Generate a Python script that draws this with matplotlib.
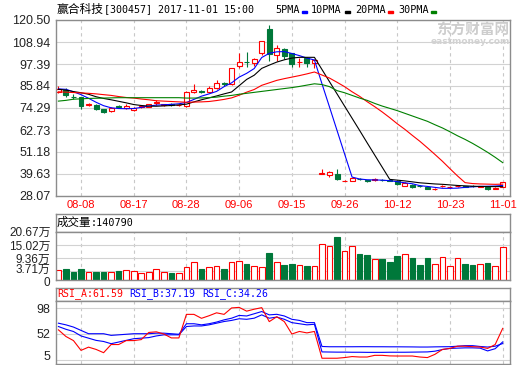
import matplotlib
matplotlib.use("Agg")
import matplotlib.pyplot as plt
from matplotlib.patches import Rectangle
from matplotlib.transforms import ScaledTranslation

plt.rcParams['font.family'] = ['Liberation Sans', 'Noto Sans CJK SC']

# x labels
dates = ['08-08', '08-17', '08-28', '09-06', '09-15', '09-26', '10-12', '10-23', '11-01']
date_idx = [3, 10, 17, 24, 31, 38, 45, 52, 59]

# daily candles (60 trading days)
opens = [82.7, 84.0, 80.3, 80.0, 75.9, 75.8, 73.7, 72.9, 75.2, 74.3,
         73.3, 74.8, 75.0, 76.8, 75.8, 76.4, 75.9, 75.2, 82.6, 83.2,
         82.9, 84.7, 87.4, 86.8, 96.3, 98.6, 97.7, 103.0, 115.6, 102.1,
         105.1, 103.0, 98.4, 100.7, 98.1, 39.6, 39.0, 39.6, 36.0, 36.2,
         37.0, 36.3, 36.6, 36.6, 36.3, 35.9, 33.5, 34.0, 33.5, 32.9,
         31.7, 33.1, 32.8, 33.3, 33.2, 33.5, 33.0, 32.9, 31.7, 32.9]
highs = [85.8, 85.0, 81.5, 80.3, 77.0, 76.5, 74.0, 74.6, 75.8, 76.5,
         75.0, 75.6, 76.5, 78.3, 76.6, 76.8, 76.5, 83.0, 86.9, 84.0,
         86.0, 89.0, 88.0, 95.5, 103.0, 103.5, 100.5, 109.6, 118.0, 107.3,
         105.6, 103.2, 100.4, 101.2, 100.0, 42.0, 41.3, 42.1, 36.5, 37.6,
         37.4, 36.6, 37.4, 37.0, 36.8, 36.3, 35.2, 34.5, 34.0, 33.2,
         32.4, 33.8, 33.4, 34.0, 33.5, 33.8, 33.4, 33.1, 32.9, 35.5]
lows = [82.0, 80.0, 79.0, 74.0, 75.5, 73.2, 71.7, 72.3, 74.3, 74.0,
        72.8, 74.2, 74.6, 76.0, 75.3, 75.5, 75.2, 74.8, 82.3, 82.0,
        82.5, 84.3, 86.0, 86.3, 95.1, 96.0, 96.5, 102.0, 99.0, 99.2,
        99.8, 96.0, 96.0, 96.0, 95.1, 39.5, 38.0, 36.7, 35.8, 36.0,
        36.3, 35.2, 36.2, 36.0, 35.8, 34.0, 33.2, 32.3, 33.0, 31.5,
        31.2, 32.8, 32.5, 33.0, 32.6, 32.8, 32.7, 31.3, 31.5, 32.7]
closes = [84.1, 81.0, 79.8, 75.2, 76.2, 73.9, 72.4, 74.4, 74.9, 75.3,
          74.5, 75.1, 76.2, 77.2, 76.3, 75.9, 76.1, 82.5, 83.7, 82.9,
          84.6, 87.2, 86.9, 95.1, 98.6, 98.2, 99.8, 109.5, 102.6, 105.6,
          101.6, 97.3, 98.7, 97.8, 99.3, 40.3, 40.5, 36.8, 36.2, 37.4,
          36.8, 36.1, 36.8, 36.4, 36.0, 34.4, 34.7, 32.6, 33.3, 31.6,
          31.9, 33.3, 33.0, 33.5, 32.9, 33.3, 33.2, 31.6, 32.4, 35.3]

ma5 = [84.3, 84.1, 82.8, 81.3, 79.4, 77.3, 75.5, 74.4, 74.0, 73.9,
       74.0, 74.6, 75.3, 75.8, 76.0, 76.2, 76.5, 77.2, 78.8, 80.5,
       81.7, 83.0, 85.5, 87.5, 90.5, 92.5, 95.0, 100.8, 103.0, 103.8,
       103.9, 102.9, 101.8, 100.5, 99.5, 87.0, 74.8, 62.5, 50.2, 38.0,
       37.0, 36.6, 36.5, 36.4, 36.1, 35.6, 35.0, 34.5, 33.5, 33.1,
       32.6, 32.1, 32.1, 32.2, 32.6, 32.9, 33.1, 33.2, 33.3, 33.6]
ma10 = [84.1, 83.7, 82.9, 82.3, 81.5, 80.2, 79.3, 78.6, 77.8, 77.0,
        76.1, 75.6, 75.3, 75.2, 75.4, 75.6, 75.9, 76.3, 77.5, 78.6,
        79.6, 80.6, 81.7, 82.7, 86.0, 89.3, 91.5, 95.1, 96.8, 98.4,
        99.6, 100.5, 100.9, 100.9, 100.9, 94.5, 88.1, 81.7, 75.3, 68.9,
        62.5, 56.0, 49.6, 43.2, 36.8, 36.4, 36.0, 35.5, 35.0, 34.7,
        34.4, 34.2, 33.9, 33.6, 33.4, 33.2, 33.1, 33.0, 33.0, 33.0]
ma20 = [82.8, 82.6, 82.4, 82.2, 82.0, 81.7, 81.3, 80.9, 80.3, 79.8,
        79.5, 79.0, 78.6, 78.1, 77.9, 77.7, 77.5, 77.3, 77.4, 77.5,
        77.7, 78.2, 78.8, 79.6, 81.0, 82.6, 84.0, 86.2, 87.5, 88.8,
        89.7, 90.5, 91.3, 92.2, 93.2, 91.6, 90.0, 87.8, 85.5, 82.8,
        80.4, 77.6, 75.0, 72.2, 69.2, 66.0, 63.1, 59.9, 56.8, 53.4,
        49.9, 46.3, 42.4, 38.6, 35.1, 34.6, 34.4, 34.3, 34.2, 34.3]
ma30 = [77.9, 78.3, 78.9, 79.1, 79.3, 79.4, 79.5, 79.6, 79.7, 79.7,
        79.7, 79.7, 79.7, 79.7, 79.7, 79.7, 79.7, 79.5, 79.5, 79.6,
        79.7, 80.0, 80.5, 80.9, 81.5, 82.0, 82.5, 83.0, 83.5, 84.0,
        84.5, 85.0, 85.6, 86.3, 87.0, 86.6, 85.5, 83.4, 82.3, 80.9,
        79.5, 78.3, 76.7, 75.3, 74.1, 72.9, 71.5, 70.1, 68.7, 67.3,
        65.5, 63.8, 61.8, 59.7, 57.8, 55.7, 53.4, 51.0, 48.4, 45.6]

# volume in 万 shares
volume = [4.3, 4.7, 3.6, 4.7, 3.3, 3.3, 3.3, 3.3, 3.9, 4.1,
          3.9, 2.9, 3.3, 4.6, 3.3, 2.9, 2.9, 5.7, 7.6, 4.7,
          5.7, 6.1, 4.7, 7.6, 8.3, 7.1, 6.1, 5.4, 11.6, 7.6,
          6.4, 6.7, 6.3, 5.9, 5.9, 15.3, 14.8, 18.4, 12.3, 14.8,
          11.1, 10.7, 9.0, 9.0, 7.7, 10.3, 11.0, 9.5, 6.4, 9.5,
          7.1, 10.1, 5.9, 9.3, 6.8, 6.4, 6.7, 7.3, 5.9, 14.08]

rsi_a = [59, 47, 39.6, 22, 27.8, 23.7, 17.8, 32.5, 32.5, 39.6,
         39.6, 41.4, 54.3, 55.4, 51.5, 44.4, 44.4, 86.9, 86.9, 79.8,
         84.4, 89.7, 86.9, 98.5, 99.5, 92.7, 96.2, 99.0, 73.8, 82.6,
         73.8, 51.5, 56.1, 53.5, 56.1, 7.8, 7.8, 7.8, 9.0, 10.8,
         10.0, 10.0, 13.0, 13.0, 12.0, 11.8, 11.8, 11.8, 10.0, 9.0,
         14.8, 23.7, 25.5, 29.5, 29.5, 28.6, 28.0, 25.5, 32.5, 61.59]
rsi_b = [65, 60, 56, 48, 44, 40, 38, 34, 37, 40,
         43, 44, 45, 48, 50, 50, 50, 65, 66, 66,
         68, 71, 74, 76, 79, 78, 80, 86, 80, 82,
         78, 72, 70, 68, 69, 19.2, 19.0, 18.8, 18.8, 18.6,
         18.6, 18.4, 18.4, 18.4, 18.6, 18.6, 18.6, 18.8, 19.0, 19.2,
         20.5, 23.5, 25.5, 26.0, 26.5, 26.5, 26.0, 21.0, 25.0, 37.19]
rsi_c = [71, 68, 64, 58, 52, 52, 52, 49, 50, 51,
         52, 52, 52, 53, 53, 52, 51, 70, 70, 68,
         70, 73, 77, 80, 85, 84, 88, 92, 86, 87,
         84, 78, 76, 72, 72, 29.0, 28.5, 28.5, 28.5, 28.5,
         28.6, 28.6, 28.5, 28.5, 28.4, 28.4, 28.3, 28.2, 28.0, 28.0,
         28.3, 28.5, 28.6, 29.5, 30.5, 30.5, 29.0, 28.0, 29.5, 34.26]

price_ticks = [28.07, 39.63, 51.18, 62.73, 74.29, 85.84, 97.39, 108.94, 120.50]
vol_ticks = [0, 3.71, 9.36, 15.02, 20.67]
vol_labels = ['0', '3.71万', '9.36万', '15.02万', '20.67万']
rsi_ticks = [5, 52, 98]

RED = '#ff0000'
GREEN = '#00783a'
FRAME = '#8c8c8c'
GRID = '#d2d2d2'
W, H = 520, 365

fig = plt.figure(figsize=(W / 100, H / 100), dpi=100)


def box(x0, y0, x1, y1):
    # pixel box, y measured from the top
    return [x0 / W, 1 - y1 / H, (x1 - x0) / W, (y1 - y0) / H]


def nudge(label, dy_px):
    label.set_transform(label.get_transform() +
                        ScaledTranslation(0, dy_px / 100, fig.dpi_scale_trans))


ax = fig.add_axes(box(56, 20, 510, 196))
vh = fig.add_axes(box(56, 214, 510, 232))
av = fig.add_axes(box(56, 232, 510, 280))
rh = fig.add_axes(box(56, 288, 510, 301))
ar = fig.add_axes(box(56, 301, 510, 364))

xs = list(range(len(closes)))
up = [c >= o for o, c in zip(opens, closes)]
cols = [RED if u else GREEN for u in up]

for a in (ax, vh, av, rh, ar):
    for s in a.spines.values():
        s.set_color(FRAME)
        s.set_linewidth(1)
    a.set_xlim(-0.32, 59.97)

for a in (vh, rh):
    a.set_xticks([])
    a.set_yticks([])

for a in (ax, av, ar):
    a.set_xticks(date_idx)
    a.grid(axis='x', color='#c8c8c8', linestyle=(0, (3, 3)), linewidth=0.8)
    a.grid(axis='y', color=GRID, linestyle='-', linewidth=0.8)
    a.set_axisbelow(True)
    a.tick_params(length=0, labelsize=9, colors='#222222', pad=4)

# candles
ax.vlines(xs, lows, highs, colors=cols, linewidth=0.8, zorder=2)
bw = 0.66
for i in xs:
    lo = min(opens[i], closes[i])
    h = max(abs(closes[i] - opens[i]), 0.12)
    face = 'white' if up[i] else GREEN
    ax.add_patch(Rectangle((i - bw / 2, lo), bw, h, facecolor=face,
                           edgecolor=cols[i], linewidth=0.8, zorder=2.5))

ax.plot(xs, ma5, color='#0000ff', linewidth=0.8, zorder=3)
ax.plot(xs, ma10, color='#000000', linewidth=0.8, zorder=3)
ax.plot(xs, ma20, color='#ff0000', linewidth=0.8, zorder=3)
ax.plot(xs, ma30, color='#008000', linewidth=0.8, zorder=3)

ax.set_ylim(28.07, 120.50)
ax.set_yticks(price_ticks)
ax.set_yticklabels(['%.2f' % v for v in price_ticks])
ax.set_xticklabels(dates, color=RED, fontsize=8)
ax.tick_params(axis='x', colors=RED, pad=3)

# volume
av.bar(xs, volume, width=0.75, color=['white' if u else GREEN for u in up],
       edgecolor=cols, linewidth=0.8, zorder=2)
av.set_ylim(0, 20.67)
av.set_yticks(vol_ticks)
av.set_yticklabels(vol_labels, fontsize=8.5)
av.set_xticklabels([])
vlabs = av.get_yticklabels()
nudge(vlabs[0], -2)
nudge(vlabs[1], 2.5)
nudge(vlabs[4], 1)

# rsi
ar.plot(xs, rsi_c, color='#0000ff', linewidth=0.8)
ar.plot(xs, rsi_b, color='#0000ff', linewidth=0.8)
ar.plot(xs, rsi_a, color='#ff0000', linewidth=0.8)
ar.set_ylim(-2.6, 111)
ar.set_yticks(rsi_ticks)
ar.set_yticklabels([str(v) for v in rsi_ticks])
ar.set_xticklabels([])
nudge(ar.get_yticklabels()[0], 4.5)

# header texts
mono = 'DejaVu Sans Mono'
fig.text(57 / W, 1 - 9 / H, '赢合科技', family='Noto Sans CJK SC', fontsize=8.5, va='center')
fig.text(104 / W, 1 - 9 / H, '[300457] 2017-11-01 15:00', family=mono, fontsize=7.2, va='center')

legend = [('5PMA', 275.5, 301.5, '#0000ff'), ('10PMA', 311, 345, '#000000'),
          ('20PMA', 355, 388, '#ff0000'), ('30PMA', 398, 431, '#008000')]
for name, tx, mx, c in legend:
    fig.text(tx / W, 1 - 10 / H, name, family=mono, fontsize=7.3, va='center')
    fig.add_artist(Rectangle((mx / W, 1 - 12.7 / H), 5 / W, 2 / H, color=c,
                             transform=fig.transFigure))

fig.text(473 / W, 1 - 30 / H, '东方财富网', family='Noto Sans CJK SC', fontsize=10.5,
         fontweight='bold', color='#cdcdcd', ha='center', va='center')
fig.text(470 / W, 1 - 41.5 / H, 'eastmoney.com', family='DejaVu Sans', fontsize=6.5,
         fontweight='bold', color='#d2d2d2', ha='center', va='center')

fig.text(57 / W, 1 - 222.5 / H, '成交量', family='Noto Sans CJK SC', fontsize=8.3, va='center')
fig.text(91 / W, 1 - 222.5 / H, ':140790', family=mono, fontsize=7.3, va='center')

fig.text(57 / W, 1 - 294 / H, 'RSI_A:61.59', family=mono, fontsize=7.1, color=RED, va='center')
fig.text(129 / W, 1 - 294 / H, 'RSI_B:37.19', family=mono, fontsize=7.1, color='#0000ff', va='center')
fig.text(202 / W, 1 - 294 / H, 'RSI_C:34.26', family=mono, fontsize=7.1, color='#0000ff', va='center')

fig.savefig('out.png', dpi=100)
